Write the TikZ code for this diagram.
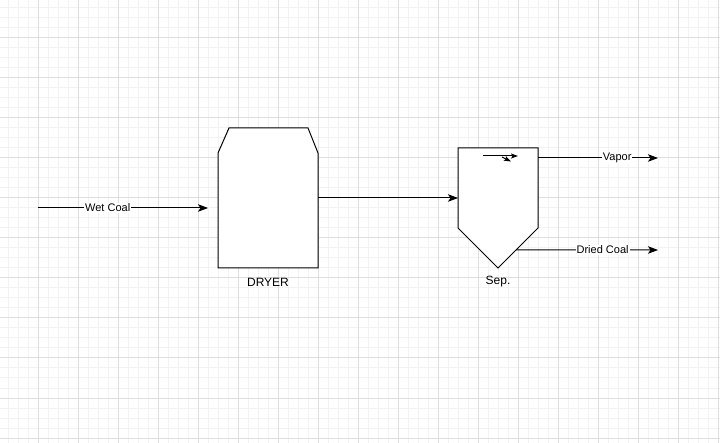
\documentclass[tikz,border=0pt]{standalone}
\usepackage{fontspec}
\setmainfont{Liberation Sans}
\usetikzlibrary{arrows.meta,calc}
\begin{document}
\begin{tikzpicture}[x=1pt,y=-1pt,
  gridminor/.style={draw=black!5,line width=1pt},
  gridmajor/.style={draw=black!13,line width=1pt},
  unit/.style={minimum width=#1,inner sep=0pt,outer sep=0pt},
  outline/.style={draw=black,line width=1pt,fill=white,line join=miter},
  stream/.style={draw=black,line width=1pt,-{Stealth[length=10pt,width=7.5pt,inset=2.5pt]}},
  smallflow/.style={draw=black,line width=1pt,-{Stealth[length=7pt,width=5pt,inset=1.5pt]}},
  tag/.style={font=\fontsize{11pt}{13pt}\selectfont,text=black,inner sep=1pt},
  unittag/.style={tag,font=\fontsize{12pt}{14pt}\selectfont},
  flowtag/.style={tag,fill=white}]
\useasboundingbox (0,0) rectangle (720,443);
\fill[white] (0,0) rectangle (720,443);
% background grid: light 10pt lines, darker every 40pt
\foreach \x in {8,18,...,718} \draw[gridminor] (\x,0) -- (\x,443);
\foreach \y in {8,18,...,438} \draw[gridminor] (0,\y) -- (720,\y);
\foreach \x in {38,78,...,718} \draw[gridmajor] (\x,0) -- (\x,443);
\foreach \y in {38,78,...,438} \draw[gridmajor] (0,\y) -- (720,\y);

% dryer: box with chamfered top
\node[unit=100pt,minimum height=140pt] (dryer) at (268,198) {};
\path[outline] (dryer.south west) -- ($(dryer.north west)+(0,25)$)
  -- ($(dryer.north west)+(11,0)$) -- ($(dryer.north east)+(-10,0)$)
  -- ($(dryer.north east)+(0,25)$) -- (dryer.south east) -- cycle;
\node[unittag] (dryerlabel) at ($(dryer.south)+(0,14)$) {DRYER};

% separator: box with conical bottom
\node[unit=80pt,minimum height=120pt] (sep) at (498,208) {};
\coordinate (sepR) at ($(sep.north east)+(0,80)$);
\coordinate (sepL) at ($(sep.north west)+(0,80)$);
\path[outline] (sep.north west) -- (sep.north east) -- (sepR) -- (sep.south) -- (sepL) -- cycle;
\draw[smallflow] ($(sep.north)+(-15,8)$) -- ($(sep.north)+(20,8)$);
\draw[smallflow] ($(sep.north)+(4,9)$) -- ($(sep.north)+(13,13.5)$);
\node[unittag] (seplabel) at ($(sep.south)+(0,14)$) {Sep.};

% streams
\coordinate (wetin) at (38,208);
\draw[stream] (wetin) -- ([xshift=-10pt]wetin -| dryer.west)
  node[flowtag,pos=0.41] (wetlabel) {Wet Coal};
\draw[stream] (dryer.east) -- (dryer.east -| sep.west);
\coordinate (vapstart) at ($(sep.north east)+(0,10)$);
\coordinate (vapout) at (658,158);
\draw[stream] (vapstart) -- (vapout) node[flowtag,pos=0.66] (vaplabel) {Vapor};
\coordinate (drystart) at ($(sep.south)!0.45!(sepR)$);
\coordinate (dryout) at (658,250);
\draw[stream] (drystart) -- (dryout) node[flowtag,pos=0.61] (drylabel) {Dried Coal};
\end{tikzpicture}
\end{document}
